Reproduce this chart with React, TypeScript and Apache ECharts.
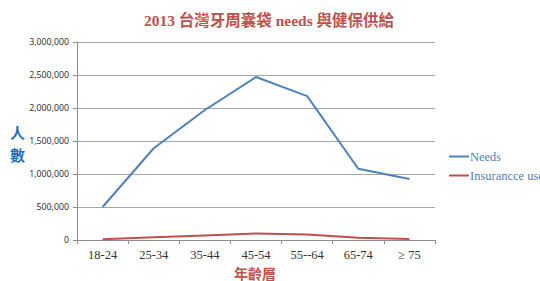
import React, { useEffect, useRef } from "react";
import * as echarts from "echarts";

const categories = ["18-24", "25-34", "35-44", "45-54", "55--64", "65-74", "≥ 75"];
const needsValues = [500000, 1390000, 1970000, 2470000, 2180000, 1080000, 925000];
const insuranceValues = [10000, 40000, 70000, 100000, 85000, 35000, 15000];
const seriesNames = ["Needs", "Insurancce use"];

export default function App() {
  const ref = useRef<HTMLDivElement>(null);
  useEffect(() => {
    const chart = echarts.init(ref.current!, null, { renderer: "svg" });
    chart.setOption({
      animation: false,
      title: {
        text: "2013 台灣牙周囊袋 needs 與健保供給",
        left: 264,
        textAlign: "center",
        top: 8,
        textStyle: {
          color: "#c0504d",
          fontSize: 15.5,
          fontWeight: "bold",
          fontFamily: "'Liberation Serif', 'Noto Sans CJK TC', serif",
        },
      },
      grid: { left: 77, right: 105, top: 42, bottom: 41 },
      legend: {
        orient: "vertical",
        left: 444,
        top: 145,
        itemWidth: 20,
        itemHeight: 2,
        itemGap: 6,
        icon: "rect",
        data: seriesNames,
        textStyle: {
          color: "#4f81bd",
          fontSize: 12.5,
          fontFamily: "'Liberation Serif', serif",
          padding: [0, 0, 0, -4],
        },
      },
      xAxis: {
        type: "category",
        data: categories,
        boundaryGap: true,
        axisLine: { lineStyle: { color: "#8c8c8c" } },
        axisTick: { show: true, alignWithLabel: false, length: 4, lineStyle: { color: "#8c8c8c" } },
        axisLabel: {
          color: "#333",
          fontSize: 12.5,
          fontFamily: "'Liberation Serif', serif",
          margin: 8,
        },
      },
      yAxis: {
        type: "value",
        min: 0,
        max: 3000000,
        interval: 500000,
        axisLine: { show: true, lineStyle: { color: "#8c8c8c" } },
        axisTick: { show: true, length: 4, lineStyle: { color: "#8c8c8c" } },
        splitLine: { lineStyle: { color: "#a6a6a6" } },
        axisLabel: {
          color: "#262626",
          fontSize: 8.8,
          fontFamily: "'Open Sans', sans-serif",
          margin: 8,
          formatter: (v: number) => v.toLocaleString("en-US"),
        },
      },
      graphic: [
        {
          type: "text",
          left: 10,
          top: 121,
          style: {
            text: "人\n數",
            fill: "#1f6fb8",
            fontSize: 15,
            fontWeight: "bold",
            lineHeight: 22,
            fontFamily: "'Noto Sans CJK TC', sans-serif",
          },
        },
        {
          type: "text",
          left: 234,
          top: 265,
          style: {
            text: "年齡層",
            fill: "#c0504d",
            fontSize: 14,
            lineHeight: 15,
            fontWeight: "bold",
            fontFamily: "'Noto Sans CJK TC', sans-serif",
          },
        },
      ],
      series: [
        {
          name: seriesNames[0],
          type: "line",
          data: needsValues,
          showSymbol: false,
          symbol: "none",
          lineStyle: { color: "#4f81bd", width: 2 },
          itemStyle: { color: "#4f81bd" },
        },
        {
          name: seriesNames[1],
          type: "line",
          data: insuranceValues,
          showSymbol: false,
          symbol: "none",
          lineStyle: { color: "#c0504d", width: 2 },
          itemStyle: { color: "#c0504d" },
        },
      ],
    });
    return () => chart.dispose();
  }, []);
  return <div ref={ref} style={{ width: 540, height: 281, position: "absolute", left: 0, top: 0 }} />;
}
